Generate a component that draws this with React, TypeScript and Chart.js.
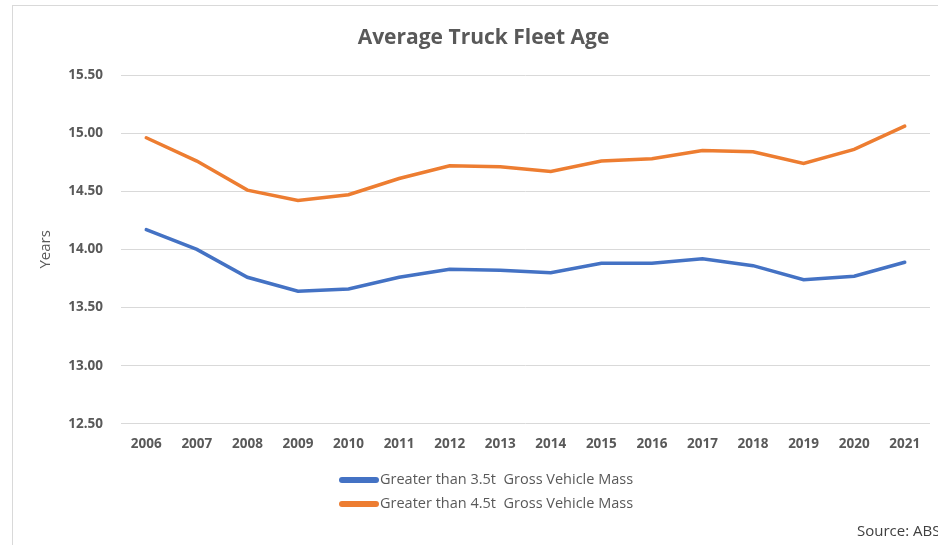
import React, { useEffect, useRef } from "react";
import { Chart, registerables } from "chart.js";

Chart.register(...registerables);

const years = ["2006","2007","2008","2009","2010","2011","2012","2013","2014","2015","2016","2017","2018","2019","2020","2021"];
const gvm35 = [14.17,14.00,13.76,13.64,13.66,13.76,13.83,13.82,13.80,13.88,13.88,13.92,13.86,13.74,13.77,13.89];
const gvm45 = [14.96,14.76,14.51,14.42,14.47,14.61,14.72,14.71,14.67,14.76,14.78,14.85,14.84,14.74,14.86,15.06];
const seriesNames = ["Greater than 3.5t  Gross Vehicle Mass", "Greater than 4.5t  Gross Vehicle Mass"];
const seriesColors = ["#4472C4", "#ED7D31"];
const titleText = "Average Truck Fleet Age";
const yTitle = "Years";
const sourceText = "Source: ABS";

const FONT = "'Open Sans', 'Liberation Sans', sans-serif";

const legendPlugin = {
  id: "vertLegend",
  afterDraw(chart: any) {
    const ctx = chart.ctx;
    ctx.save();
    chart.data.datasets.forEach((ds: any, i: number) => {
      const y = 480 + i * 24;
      ctx.strokeStyle = ds.borderColor;
      ctx.lineWidth = 6;
      ctx.lineCap = "round";
      ctx.beginPath();
      ctx.moveTo(342, y);
      ctx.lineTo(376, y);
      ctx.stroke();
      ctx.fillStyle = "#595959";
      ctx.font = `14.5px ${FONT}`;
      ctx.textBaseline = "middle";
      ctx.textAlign = "left";
      ctx.fillText(ds.label, 380, y);
    });
    ctx.restore();
  },
};

export default function App() {
  const ref = useRef<HTMLCanvasElement>(null);
  useEffect(() => {
    const chart = new Chart(ref.current!, {
      type: "line",
      data: {
        labels: years,
        datasets: [gvm35, gvm45].map((d, i) => ({
          label: seriesNames[i],
          data: d,
          borderColor: seriesColors[i],
          backgroundColor: seriesColors[i],
          borderWidth: 3.5,
          pointRadius: 0,
          tension: 0,
          borderCapStyle: "round" as const,
        })),
      },
      options: {
        animation: false,
        responsive: false,
        maintainAspectRatio: false,
        layout: { padding: { left: 37, right: 8, top: 0, bottom: 81 } },
        plugins: {
          legend: { display: false },
          tooltip: { enabled: false },
          title: {
            display: true,
            text: titleText,
            color: "#595959",
            font: { family: FONT, size: 21, weight: "bold" },
            padding: { top: 25.4, bottom: 24.4 },
          },
        },
        scales: {
          x: {
            offset: true,
            grid: { display: false, drawTicks: false },
            border: { display: false },
            ticks: {
              color: "#595959",
              font: { family: FONT, size: 13.5, weight: "bold" },
              padding: 12,
              maxRotation: 0,
            },
          },
          y: {
            min: 12.5,
            max: 15.5,
            grid: { color: "#d9d9d9", lineWidth: 1, drawTicks: false },
            border: { display: false },
            afterFit: (scale: any) => { scale.width = 84; },
            ticks: {
              stepSize: 0.5,
              color: "#595959",
              font: { family: FONT, size: 13.5, weight: "bold" },
              padding: 18,
              callback: (v: any) => Number(v).toFixed(2),
            },
            title: {
              display: true,
              text: yTitle,
              color: "#595959",
              font: { family: FONT, size: 15 },
              padding: { top: 0, bottom: 0 },
            },
          },
        },
      },
      plugins: [legendPlugin],
    });
    return () => chart.destroy();
  }, []);

  return (
    <div style={{ position: "fixed", left: 0, top: 0, width: 938, height: 545, overflow: "hidden", background: "#fff" }}>
      <div style={{ position: "absolute", left: 12, top: 5, width: 960, height: 600, border: "1px solid #d9d9d9", boxSizing: "border-box" }} />
      <canvas ref={ref} width={938} height={545} style={{ position: "absolute", left: 0, top: 0, width: 938, height: 545 }} />
      <span style={{ position: "absolute", left: 857, top: 520, font: `15px ${FONT}`, color: "#404040", whiteSpace: "nowrap" }}>{sourceText}</span>
    </div>
  );
}
